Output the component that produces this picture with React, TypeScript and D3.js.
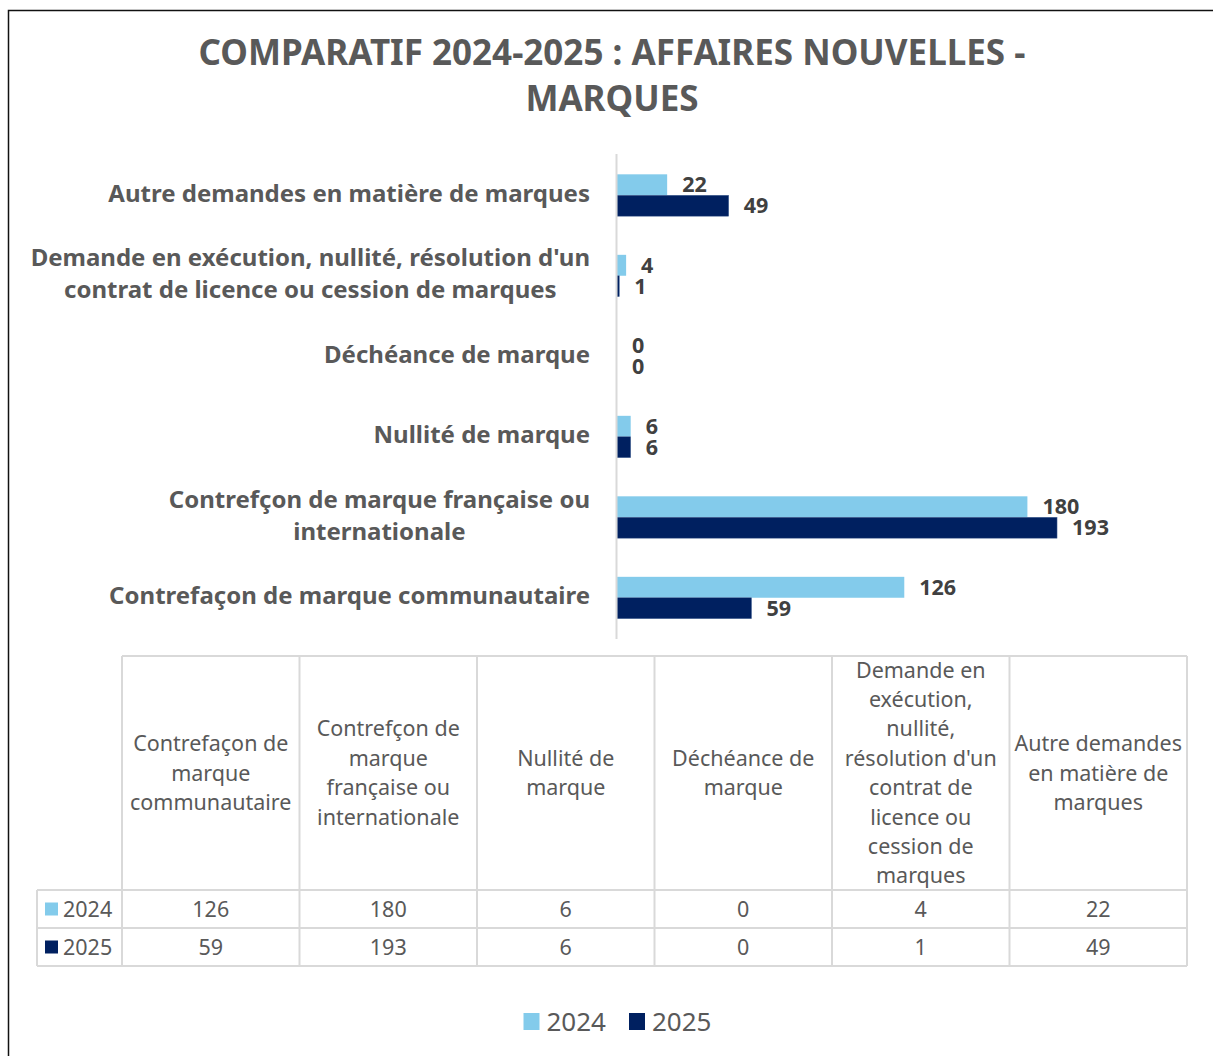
import React, { useEffect, useRef } from "react";
import * as d3 from "d3";

// ---------- DATA ----------
const categories = [
  "Contrefaçon de marque communautaire",
  "Contrefçon de marque française ou internationale",
  "Nullité de marque",
  "Déchéance de marque",
  "Demande en exécution, nullité, résolution d'un contrat de licence ou cession de marques",
  "Autre demandes en matière de marques",
];
const seriesNames = ["2024", "2025"];
const values2024 = [126, 180, 6, 0, 4, 22];
const values2025 = [59, 193, 6, 0, 1, 49];

const axisLabelLines = [
  ["Contrefaçon de marque communautaire"],
  ["Contrefçon de marque française ou", "internationale"],
  ["Nullité de marque"],
  ["Déchéance de marque"],
  ["Demande en exécution, nullité, résolution d'un", "contrat de licence ou cession de marques"],
  ["Autre demandes en matière de marques"],
];
const tableHeaderLines = [
  ["Contrefaçon de", "marque", "communautaire"],
  ["Contrefçon de", "marque", "française ou", "internationale"],
  ["Nullité de", "marque"],
  ["Déchéance de", "marque"],
  ["Demande en", "exécution,", "nullité,", "résolution d'un", "contrat de", "licence ou", "cession de", "marques"],
  ["Autre demandes", "en matière de", "marques"],
];
const titleLines = ["COMPARATIF 2024-2025 : AFFAIRES NOUVELLES -", "MARQUES"];
const xDomain = [0, 250];

// ---------- STYLE ----------
const FONT = "'Noto Sans', 'Open Sans', sans-serif";
const COLORS = ["#83CBEB", "#002060"];
const GRAY = "#595959";
const LABEL = "#404040";
const GRID = "#d9d9d9";

export default function App() {
  const ref = useRef<SVGSVGElement | null>(null);

  useEffect(() => {
    const svg = d3.select(ref.current);
    svg.selectAll("*").remove();

    // frame
    svg.append("rect").attr("x", 8.5).attr("y", 10.5).attr("width", 1400).attr("height", 1400)
      .attr("fill", "#fff").attr("stroke", "#111").attr("stroke-width", 1.5);

    // title
    svg.append("g").selectAll("text").data(titleLines).join("text")
      .attr("x", 612).attr("y", (_d, i) => 65 + i * 46)
      .attr("text-anchor", "middle").attr("font-family", FONT).attr("font-weight", 700)
      .attr("font-size", 35).attr("fill", GRAY).text(d => d);

    // scales
    const x = d3.scaleLinear().domain(xDomain).range([617, 1187]);
    const y = d3.scaleBand<string>().domain(categories.slice().reverse()).range([155, 638])
      .paddingInner(0.48).paddingOuter(0.24);
    const ys = d3.scaleBand<string>().domain(seriesNames).range([0, y.bandwidth()]);

    const rows = categories.map((c, i) => ({ c, i, vals: [values2024[i], values2025[i]] }));

    // bars
    const gb = svg.append("g");
    rows.forEach(r => {
      r.vals.forEach((v, s) => {
        const by = (y(r.c) as number) + (ys(seriesNames[s]) as number);
        gb.append("rect").attr("x", x(0)).attr("y", by).attr("width", x(v) - x(0))
          .attr("height", ys.bandwidth()).attr("fill", COLORS[s])
          .attr("stroke", s === 1 ? "#4d6a9a" : "none").attr("stroke-width", s === 1 ? 0.5 : 0);
        gb.append("text").attr("x", x(v) + 15).attr("y", by + ys.bandwidth() / 2 + 7.5)
          .attr("font-family", FONT).attr("font-weight", 700).attr("font-size", 21.5)
          .attr("fill", LABEL).text(String(v));
      });
    });

    // axis line
    svg.append("line").attr("x1", 616.5).attr("x2", 616.5).attr("y1", 154).attr("y2", 639)
      .attr("stroke", GRID).attr("stroke-width", 2);

    // category labels
    rows.forEach(r => {
      const lines = axisLabelLines[r.i];
      const cy = (y(r.c) as number) + y.bandwidth() / 2;
      const g = svg.append("g");
      lines.forEach((ln, k) => {
        g.append("text").attr("x", 0).attr("y", cy + (k - (lines.length - 1) / 2) * 32 + 6.5)
          .attr("text-anchor", "middle").attr("font-family", FONT).attr("font-weight", 700)
          .attr("font-size", 24).attr("fill", GRAY).text(ln);
      });
      let w = 0;
      g.selectAll<SVGTextElement, unknown>("text").each(function () {
        w = Math.max(w, this.getComputedTextLength());
      });
      g.attr("transform", `translate(${590 - w / 2},0)`);
    });

    // table
    const col = d3.scaleBand<string>().domain(categories).range([122, 1187]);
    const tTop = 656, tHead = 890, rowH = 38;
    const tBottom = tHead + rowH * 2;
    const gt = svg.append("g");
    const line = (x1: number, y1: number, x2: number, y2: number) =>
      gt.append("line").attr("x1", x1).attr("y1", y1).attr("x2", x2).attr("y2", y2)
        .attr("stroke", GRID).attr("stroke-width", 2);
    line(122, tTop, 1187, tTop);
    [0, 1, 2].forEach(k => line(37, tHead + k * rowH, 1187, tHead + k * rowH));
    line(37, tHead, 37, tBottom);
    categories.forEach(c => line(col(c) as number, tTop, col(c) as number, tBottom));
    line(1187, tTop, 1187, tBottom);

    const headCy = (tTop + tHead) / 2;
    categories.forEach((c, i) => {
      const lines = tableHeaderLines[i];
      const cx = (col(c) as number) + col.bandwidth() / 2;
      lines.forEach((ln, k) => {
        gt.append("text").attr("x", cx).attr("y", headCy + (k - (lines.length - 1) / 2) * 29.4 + 7.5)
          .attr("text-anchor", "middle").attr("font-family", FONT).attr("font-size", 21.5)
          .attr("fill", GRAY).text(ln);
      });
    });
    [values2024, values2025].forEach((vals, s) => {
      const cy = tHead + s * rowH + rowH / 2;
      gt.append("rect").attr("x", 45).attr("y", cy - 6.5).attr("width", 13).attr("height", 13)
        .attr("fill", COLORS[s]);
      gt.append("text").attr("x", 63).attr("y", cy + 7.5).attr("font-family", FONT)
        .attr("font-size", 21.5).attr("fill", GRAY).text(seriesNames[s]);
      categories.forEach((c, i) => {
        gt.append("text").attr("x", (col(c) as number) + col.bandwidth() / 2).attr("y", cy + 7.5)
          .attr("text-anchor", "middle").attr("font-family", FONT).attr("font-size", 21.5)
          .attr("fill", GRAY).text(String(vals[i]));
      });
    });

    // legend
    const gl = svg.append("g");
    let lx = 0;
    seriesNames.forEach((n, s) => {
      gl.append("rect").attr("x", lx).attr("y", 1013).attr("width", 16).attr("height", 17)
        .attr("fill", COLORS[s]);
      const t = gl.append("text").attr("x", lx + 23).attr("y", 1031).attr("font-family", FONT)
        .attr("font-size", 26).attr("fill", GRAY).text(n);
      const tw = (t.node() as SVGTextElement).getComputedTextLength();
      lx += 23 + tw + (s < seriesNames.length - 1 ? 23 : 0);
    });
    gl.attr("transform", `translate(${617.5 - lx / 2},0)`);
  }, []);

  return (
    <svg ref={ref} width={1213} height={1056}
      style={{ position: "absolute", left: 0, top: 0, background: "#fff" }} />
  );
}
